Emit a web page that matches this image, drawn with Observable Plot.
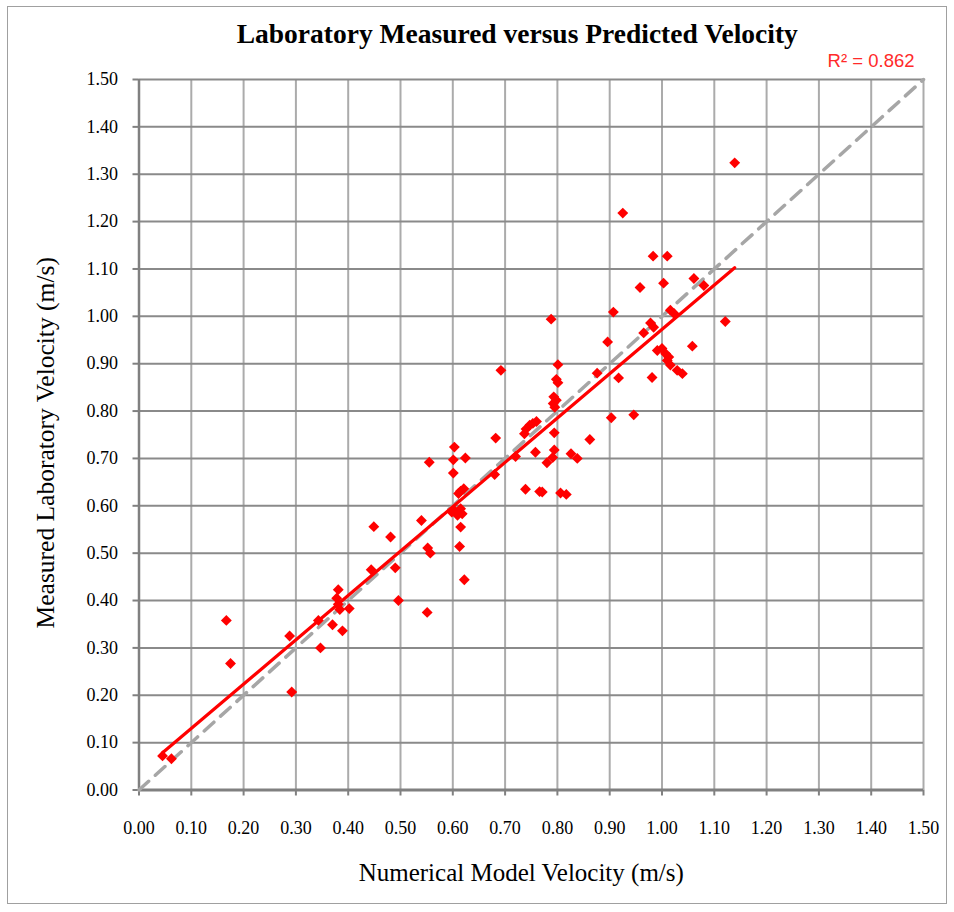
<!DOCTYPE html>
<html>
<head>
<meta charset="utf-8">
<script src="https://cdn.jsdelivr.net/npm/d3@7"></script>
<script src="https://cdn.jsdelivr.net/npm/@observablehq/plot@0.6"></script>
<style>
  html, body { margin: 0; padding: 0; background: #fff; }
  #wrap { position: relative; width: 954px; height: 912px; overflow: hidden; }
  #border { position: absolute; left: 7px; top: 6px; width: 940px; height: 898px; border: 1.5px solid #a0a0a0; box-sizing: border-box; pointer-events: none; }
</style>
</head>
<body>
<div id="wrap"><div id="border"></div></div>
<script>
// ---- data ----
const modelVelocity = [
  0.045, 0.062, 0.167, 0.175, 0.292, 0.288, 0.347, 0.343, 0.370, 0.389,
  0.381, 0.378, 0.381, 0.384, 0.402, 0.444, 0.449, 0.490, 0.496, 0.481,
  0.551, 0.540, 0.552, 0.557, 0.622, 0.613, 0.615, 0.603, 0.615, 0.609,
  0.598, 0.618, 0.615, 0.621, 0.611, 0.601, 0.601, 0.603, 0.624, 0.555,
  0.680, 0.682, 0.692, 0.720, 0.739, 0.766, 0.771, 0.806, 0.817, 0.758,
  0.780, 0.791, 0.794, 0.826, 0.838, 0.862, 0.794, 0.737, 0.740, 0.747,
  0.753, 0.760, 0.788, 0.907, 0.896, 0.801, 0.798, 0.801, 0.793, 0.798,
  0.792, 0.795, 0.876, 0.917, 0.981, 0.903, 0.946, 0.965, 0.978, 0.984,
  1.016, 1.023, 1.058, 1.121, 0.991, 1.000, 1.007, 1.010, 1.016, 1.029,
  1.039, 1.013, 0.925, 0.983, 1.010, 0.958, 1.003, 1.061, 1.080, 1.139
];
const measuredVelocity = [
  0.072, 0.066, 0.358, 0.267, 0.207, 0.325, 0.300, 0.358, 0.349, 0.336,
  0.423, 0.405, 0.392, 0.381, 0.383, 0.465, 0.556, 0.469, 0.400, 0.534,
  0.375, 0.569, 0.511, 0.500, 0.444, 0.514, 0.555, 0.590, 0.594, 0.580,
  0.587, 0.583, 0.631, 0.636, 0.626, 0.669, 0.697, 0.724, 0.701, 0.692,
  0.666, 0.743, 0.886, 0.704, 0.635, 0.630, 0.629, 0.627, 0.624, 0.713,
  0.691, 0.702, 0.718, 0.710, 0.700, 0.740, 0.754, 0.752, 0.762, 0.770,
  0.774, 0.778, 0.994, 1.009, 0.946, 0.898, 0.867, 0.860, 0.830, 0.823,
  0.816, 0.808, 0.880, 0.870, 0.871, 0.786, 0.792, 0.965, 0.986, 0.977,
  1.013, 1.006, 0.937, 0.989, 0.928, 0.932, 0.921, 0.907, 0.897, 0.886,
  0.879, 0.914, 1.218, 1.127, 1.127, 1.061, 1.070, 1.080, 1.065, 1.324
];
const xTicks = [0.00, 0.10, 0.20, 0.30, 0.40, 0.50, 0.60, 0.70, 0.80, 0.90, 1.00, 1.10, 1.20, 1.30, 1.40, 1.50];
const yTicks = [0.00, 0.10, 0.20, 0.30, 0.40, 0.50, 0.60, 0.70, 0.80, 0.90, 1.00, 1.10, 1.20, 1.30, 1.40, 1.50];
const oneToOne = [0.00, 1.50];
const titleText = "Laboratory Measured versus Predicted Velocity";
const xLabel = "Numerical Model Velocity (m/s)";
const yLabel = "Measured Laboratory Velocity (m/s)";
const r2Text = "R² = 0.862";

const points = modelVelocity.map((x, i) => ({x, y: measuredVelocity[i]}));
const fmt = d3.format(".2f");
const serif = "'Liberation Serif', 'Times New Roman', serif";

const chart = Plot.plot({
  width: 954,
  height: 912,
  marginLeft: 138.5,
  marginRight: 31,
  marginTop: 79,
  marginBottom: 122.5,
  style: {fontFamily: serif, fontSize: "18px", background: "transparent", overflow: "visible"},
  x: {domain: [0, 1.5], axis: null},
  y: {domain: [0, 1.5], axis: null},
  marks: [
    Plot.gridX(xTicks, {stroke: "#ababab", strokeOpacity: 1, strokeWidth: 2}),
    Plot.gridY(yTicks, {stroke: "#8a8a8a", strokeOpacity: 1, strokeWidth: 2}),
    Plot.ruleX([0], {stroke: "#808080", strokeWidth: 2.5}),
    Plot.ruleY([0], {stroke: "#808080", strokeWidth: 3}),
    Plot.axisY(yTicks, {anchor: "left", tickSize: 6, tickPadding: 15, tickFormat: fmt, label: null, fontSize: 18, fill: "black", color: "black"}),
    Plot.axisX(xTicks, {anchor: "bottom", tickSize: 6, tickPadding: 25, tickFormat: fmt, label: null, fontSize: 18, fill: "black", color: "black"}),
    Plot.line(oneToOne, {x: d => d, y: d => d, stroke: "#a6a6a6", strokeWidth: 3.5, strokeDasharray: "13,9"}),
    Plot.dot(points, {x: "x", y: "y", symbol: "diamond2", r: 4.9, fill: "#ff0000", stroke: "none"}),
    Plot.linearRegressionY(points, {x: "x", y: "y", stroke: "#ff0000", strokeWidth: 3.2, ci: 0}),
    Plot.text([titleText], {text: d => d, frameAnchor: "top", dx: -14, dy: -37, lineAnchor: "bottom", fontSize: 27.5, fontWeight: "bold", fill: "black"}),
    Plot.text([xLabel], {text: d => d, frameAnchor: "bottom", dx: -10, dy: 91, lineAnchor: "bottom", fontSize: 25, fill: "black"}),
    Plot.text([yLabel], {text: d => d, frameAnchor: "left", textAnchor: "middle", dx: -85, dy: 8, rotate: -90, lineAnchor: "bottom", fontSize: 25.5, fill: "black"}),
    Plot.text([r2Text], {text: d => d, frameAnchor: "top-right", dx: -9, dy: -13, textAnchor: "end", lineAnchor: "bottom", fontSize: 18.5, fontFamily: "'Liberation Sans', Arial, sans-serif", fill: "#ff2a2a"})
  ]
});

chart.style.position = "absolute";
chart.style.left = "0px";
chart.style.top = "0px";
chart.querySelectorAll('g[aria-label="y-axis tick"], g[aria-label="x-axis tick"]').forEach(g => {
  g.setAttribute("stroke", "#808080");
  g.setAttribute("stroke-width", "2");
});
document.getElementById("wrap").appendChild(chart);
</script>
</body>
</html>
